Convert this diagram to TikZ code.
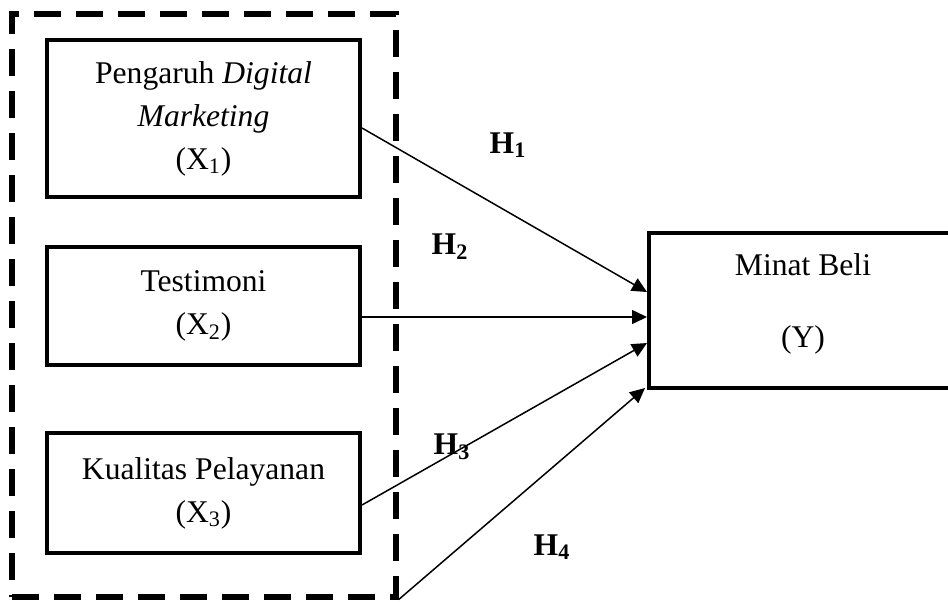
\documentclass[tikz,border=0pt]{standalone}
\usepackage{fontspec}
\setmainfont{Liberation Serif}
\usetikzlibrary{arrows.meta}
\begin{document}
\begin{tikzpicture}[x=0.5pt,y=-0.5pt,
  every node/.style={font=\fontsize{15.8}{21.5}\selectfont},
  varbox/.style={draw,line width=2pt,minimum width=156.5pt,align=center,inner sep=0pt},
  frame/.style={draw,dashed,line width=2.6pt,dash pattern=on 13.5pt off 7.5pt,minimum width=192pt,minimum height=291.5pt,inner sep=0pt},
  link/.style={line width=0.75pt,-{Triangle[length=7.5pt,width=7pt]}},
  hyp/.style={font=\fontsize{15.8}{21.5}\selectfont\bfseries,inner sep=0pt}]
\useasboundingbox (0,0) rectangle (948,601);
\begin{scope}
\clip (0,0) rectangle (948,601);
\node[frame] (fr) at (204,305.5) {};
\node[varbox,minimum height=78.5pt] (x1) at (203.5,118.5) {Pengaruh \textit{Digital}\\\textit{Marketing}\\(X\textsubscript{1})};
\node[varbox,minimum height=59pt] (x2) at (203.5,306) {Testimoni\\(X\textsubscript{2})};
\node[varbox,minimum height=60pt] (x3) at (203.5,493) {Kualitas Pelayanan\\(X\textsubscript{3})};
\node[draw,line width=2pt,minimum width=154pt,minimum height=77.5pt,inner sep=0pt] (y) at (803,310.5) {};
\node[align=center,inner sep=0pt] (ytext) at ([yshift=3.5pt]y.center) {Minat Beli\\[14.5pt](Y)};
\draw[link] ([yshift=-4.75pt]x1.east) -- ([yshift=9.25pt]y.west);
\draw[link] ([yshift=-5.5pt]x2.east) -- ([yshift=-3.25pt]y.west);
\draw[link] ([yshift=-6pt]x3.east) -- ([yshift=-16.25pt]y.west);
\draw[link] (fr.south east) -- ([xshift=-1pt,yshift=1pt]y.south west);
\node[hyp] (h1) at (508,145) {H\textsubscript{1}};
\node[hyp] (h2) at (450,247) {H\textsubscript{2}};
\node[hyp] (h3) at (452,447) {H\textsubscript{3}};
\node[hyp] (h4) at (552,547) {H\textsubscript{4}};
\end{scope}
\end{tikzpicture}
\end{document}
